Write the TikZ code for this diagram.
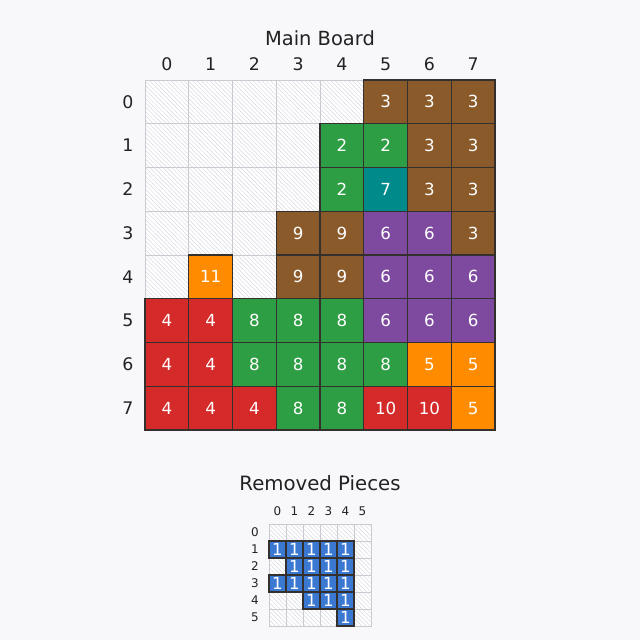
\documentclass[tikz,border=0pt]{standalone}
\usepackage{fontspec}
\setmainfont{DejaVu Sans}
\usetikzlibrary{patterns.meta}

\definecolor{bgpage}{HTML}{F8F8FA}
\definecolor{gridgray}{HTML}{CACAD2}
\definecolor{hatchgray}{HTML}{D8D8E0}
\definecolor{edgedark}{HTML}{33302E}
\definecolor{inkgray}{HTML}{222222}
\definecolor{pc1}{HTML}{3B78D2}
\definecolor{pc2}{HTML}{2E9E44}
\definecolor{pc3}{HTML}{8B5A2B}
\definecolor{pc4}{HTML}{D42A2A}
\definecolor{pc5}{HTML}{FF8C00}
\definecolor{pc6}{HTML}{7E4AA0}
\definecolor{pc7}{HTML}{008A8A}
\definecolor{pc8}{HTML}{2E9E44}
\definecolor{pc9}{HTML}{8B5A2B}
\definecolor{pc10}{HTML}{D42A2A}
\definecolor{pc11}{HTML}{FF8C00}

\def\mainrows{{0,0,0,0,0,3,3,3},{0,0,0,0,2,2,3,3},{0,0,0,0,2,7,3,3},{0,0,0,9,9,6,6,3},{0,11,0,9,9,6,6,6},{4,4,8,8,8,6,6,6},{4,4,8,8,8,8,5,5},{4,4,4,8,8,10,10,5}}
\def\removedrows{{0,0,0,0,0,0},{1,1,1,1,1,0},{0,1,1,1,1,0},{1,1,1,1,1,0},{0,0,1,1,1,0},{0,0,0,0,1,0}}

\begin{document}
\begin{tikzpicture}[x=0.72pt,y=-0.72pt,
hatch/.style={draw=gridgray,line width=0.6pt,inner sep=0pt,
  pattern={Lines[angle=-45,distance=2.2pt,line width=0.35pt]},pattern color=hatchgray},
piece/.style={draw=edgedark,line width=1pt,inner sep=0pt,text=white},
bigcell/.style={minimum size=31.5pt},
smallcell/.style={minimum size=12.24pt},
axislabel/.style={text=inkgray,inner sep=0pt},
titletext/.style={text=inkgray,inner sep=0pt,font=\fontsize{14}{17}\selectfont}]

\fill[bgpage] (0,0) rectangle (640,640);
\useasboundingbox (0,0) rectangle (640,640);

% main board
\node[titletext] (maintitle) at (320,38) {Main Board};
\fill[white] (145,80) rectangle (495,430);
\foreach \c in {0,...,7}
  \node[axislabel,font=\fontsize{12.5}{15}\selectfont] (mcol\c) at ({145+43.75*(\c+0.5)},64) {\c};
\foreach \r in {0,...,7}
  \node[axislabel,font=\fontsize{12.5}{15}\selectfont] (mrow\r) at (128,{80+43.75*(\r+0.5)}) {\r};
\foreach \row [count=\r from 0] in \mainrows {
  \foreach \v [count=\c from 0] in \row {
    \ifnum\v=0
      \node[hatch,bigcell] (m-\r-\c) at ({145+43.75*(\c+0.5)},{80+43.75*(\r+0.5)}) {};
    \fi
  }
}
\foreach \row [count=\r from 0] in \mainrows {
  \foreach \v [count=\c from 0] in \row {
    \ifnum\v>0
      \node[piece,bigcell,fill=pc\v,font=\fontsize{12}{14}\selectfont] (m-\r-\c)
        at ({145+43.75*(\c+0.5)},{80+43.75*(\r+0.5)}) {\v};
    \fi
  }
}
%
% removed pieces
\node[titletext,font=\fontsize{14.2}{17}\selectfont] (removedtitle) at (320,483) {Removed Pieces};
\fill[white] (269,524) rectangle (371,626);
\foreach \c in {0,...,5}
  \node[axislabel,font=\fontsize{8.6}{10}\selectfont] (rcol\c) at ({269+17*(\c+0.5)},511) {\c};
\foreach \r in {0,...,5}
  \node[axislabel,font=\fontsize{8.6}{10}\selectfont] (rrow\r) at (255,{524+17*(\r+0.5)}) {\r};
\foreach \row [count=\r from 0] in \removedrows {
  \foreach \v [count=\c from 0] in \row {
    \ifnum\v=0
      \node[hatch,smallcell] (r-\r-\c) at ({269+17*(\c+0.5)},{524+17*(\r+0.5)}) {};
    \fi
  }
}
\foreach \row [count=\r from 0] in \removedrows {
  \foreach \v [count=\c from 0] in \row {
    \ifnum\v>0
      \node[piece,smallcell,fill=pc\v,font=\fontsize{12}{14}\selectfont] (r-\r-\c)
        at ({269+17*(\c+0.5)},{524+17*(\r+0.5)}) {\v};
    \fi
  }
}

\end{tikzpicture}
\end{document}
